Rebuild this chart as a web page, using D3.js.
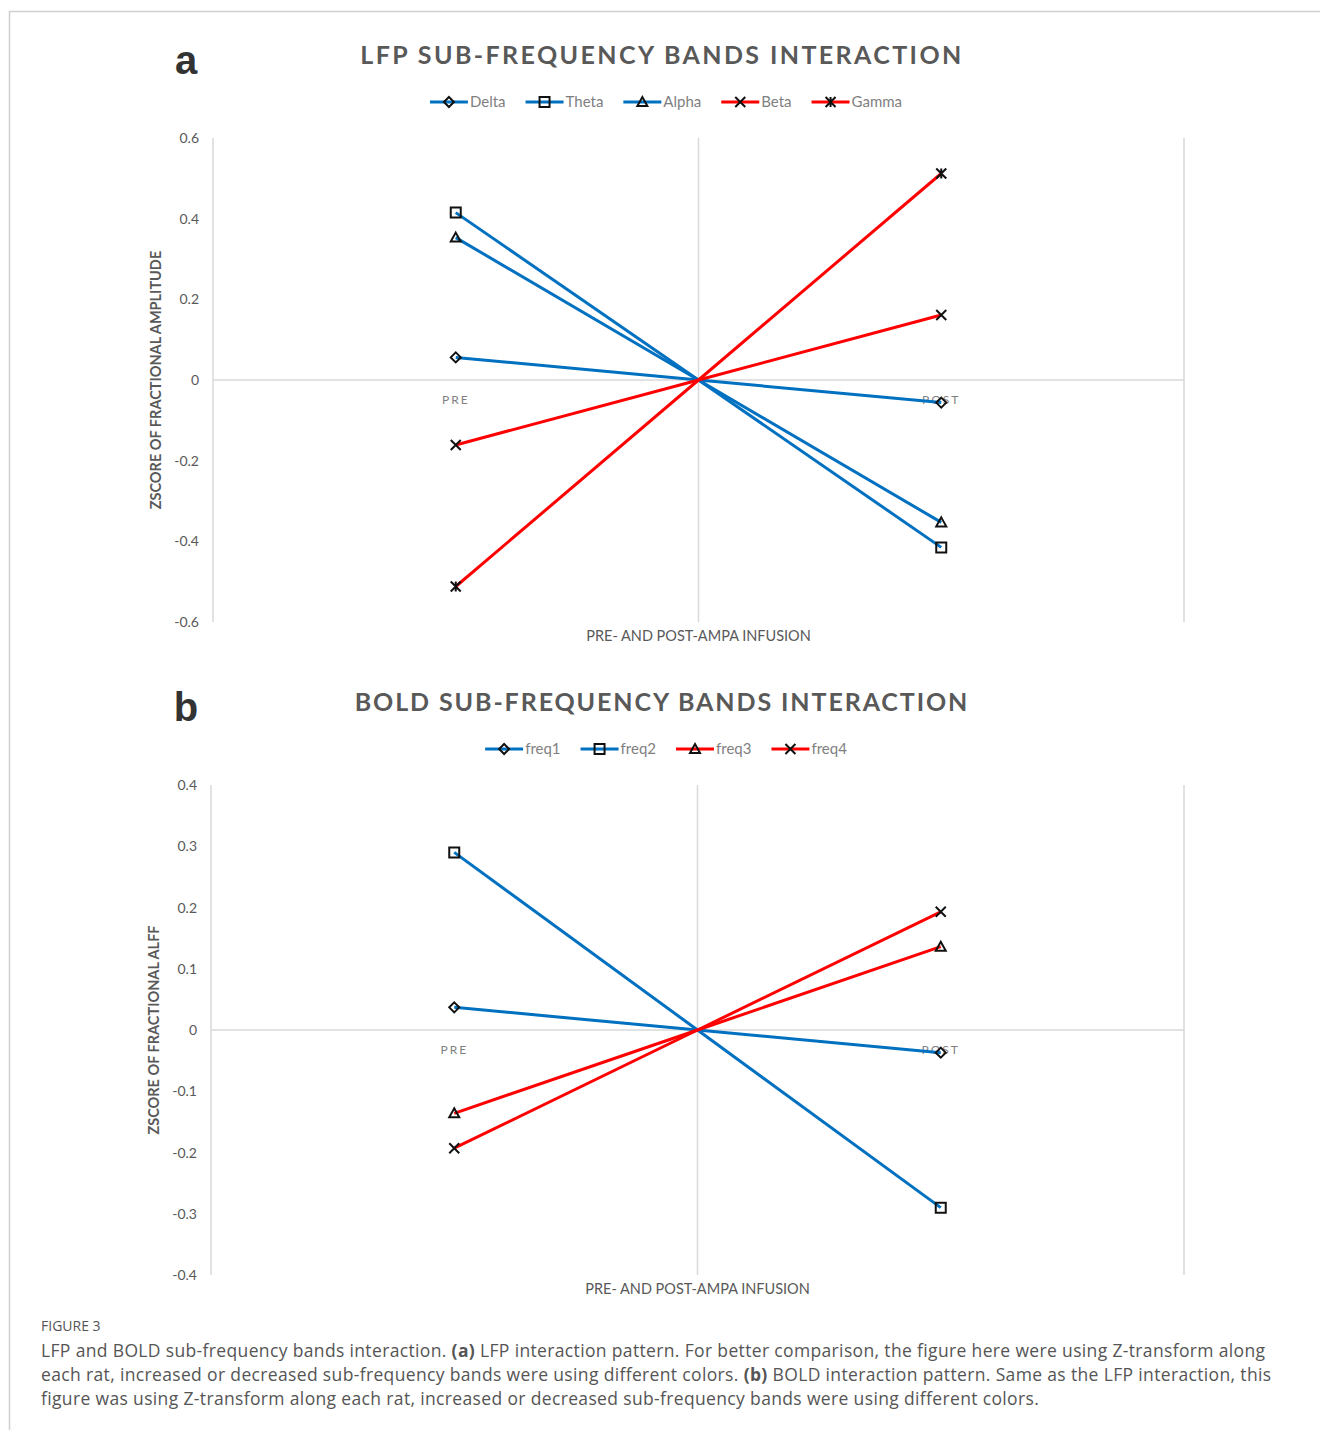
<html>
<head><meta charset="utf-8"></head>
<script src="https://d3js.org/d3.v7.min.js"></script>
<body style="margin:0;background:#fff">
<script>
// panel a : LFP
var lfpBands = ['Delta', 'Theta', 'Alpha', 'Beta', 'Gamma']
var lfpPre = [0.056, 0.415, 0.353, -0.161, -0.512]
var lfpMid = [0, 0, 0, 0, 0]
var lfpPost = [-0.056, -0.415, -0.353, 0.161, 0.512]
var lfpColors = ['#0070C0', '#0070C0', '#0070C0', '#FF0000', '#FF0000']
var lfpMarkers = ['diamond', 'square', 'triangle', 'x', 'star']
var lfpTicks = [0.6, 0.4, 0.2, 0, -0.2, -0.4, -0.6]

// panel b : BOLD
var boldBands = ['freq1', 'freq2', 'freq3', 'freq4']
var boldPre = [0.037, 0.290, -0.136, -0.193]
var boldMid = [0, 0, 0, 0]
var boldPost = [-0.037, -0.290, 0.136, 0.193]
var boldColors = ['#0070C0', '#0070C0', '#FF0000', '#FF0000']
var boldMarkers = ['diamond', 'square', 'triangle', 'x']
var boldTicks = [0.4, 0.3, 0.2, 0.1, 0, -0.1, -0.2, -0.3, -0.4]

var xPositions = [-1, 0, 1]
var categories = ['PRE', 'POST']

var width = 1320, height = 1430
var font = 'Lato, "Open Sans", sans-serif'
var svg = d3.select('body').append('svg').attr('width', width).attr('height', height)

// frame
svg.append('path').attr('d', 'M9.5,1430 L9.5,11.5 L1320,11.5').attr('fill', 'none').attr('stroke', '#cfcfcf').attr('stroke-width', 1.5)

function marker(g, type, x, y) {
    var s = 5
    var m = g.append('path').attr('fill', 'none').attr('stroke', '#111').attr('stroke-width', 2)
    if (type == 'diamond') m.attr('d', `M${x},${y-s} L${x+s},${y} L${x},${y+s} L${x-s},${y} Z`)
    if (type == 'square') m.attr('d', `M${x-s},${y-s} h${2*s} v${2*s} h${-2*s} Z`)
    if (type == 'triangle') m.attr('d', `M${x},${y-s} L${x+s},${y+s-1} L${x-s},${y+s-1} Z`)
    if (type == 'x') m.attr('d', `M${x-s},${y-s} L${x+s},${y+s} M${x+s},${y-s} L${x-s},${y+s}`)
    if (type == 'star') m.attr('d', `M${x-s},${y-s} L${x+s},${y+s} M${x+s},${y-s} L${x-s},${y+s} M${x},${y-s} L${x},${y+s}`)
}

function panel(o) {
    var g = svg.append('g')
    var x = d3.scaleLinear().domain([-2, 2]).range([o.left, o.right])
    var y = d3.scaleLinear().domain([o.ticks[o.ticks.length-1], o.ticks[0]]).range([o.bottom, o.top])

    // panel letter + title
    g.append('text').attr('x', 186).attr('y', o.top - 64).attr('text-anchor', 'middle')
        .style('font-family', '"Liberation Sans", Arial, sans-serif').style('font-weight', 'bold')
        .style('font-size', '40px').attr('fill', '#333').text(o.letter)
    g.append('text').attr('x', 662).attr('y', o.top - 74).attr('text-anchor', 'middle')
        .style('font-family', font).style('font-weight', 'bold').style('font-size', '25px')
        .style('letter-spacing', o.spacing).attr('fill', '#595959').text(o.title)

    // gridlines: vertical at -2, 0, 2
    g.selectAll('.vg').data([-2, 0, 2]).enter().append('line')
        .attr('x1', d => x(d)).attr('x2', d => x(d)).attr('y1', o.top).attr('y2', o.bottom)
        .attr('stroke', '#d9d9d9').attr('stroke-width', 1.5)
    // zero axis
    g.append('line').attr('x1', o.left).attr('x2', o.right).attr('y1', y(0)).attr('y2', y(0))
        .attr('stroke', '#d9d9d9').attr('stroke-width', 1.5)

    // y tick labels
    g.selectAll('.yt').data(o.ticks).enter().append('text')
        .attr('x', o.left - 14).attr('y', d => y(d) + 5).attr('text-anchor', 'end')
        .style('font-family', font).style('font-size', '14px').attr('fill', '#595959')
        .text(d => String(+d.toFixed(1)))

    // category labels
    g.selectAll('.cat').data(categories).enter().append('text')
        .attr('x', (d, i) => x(i == 0 ? -1 : 1)).attr('y', y(0) + 24).attr('text-anchor', 'middle')
        .style('font-family', font).style('font-size', '12px').style('letter-spacing', '2px')
        .attr('fill', '#7f7f7f').text(d => d)

    // axis titles
    g.append('text').attr('transform', `translate(${o.left - 52},${y(0)}) rotate(-90)`).attr('text-anchor', 'middle')
        .style('font-family', font).style('font-weight', 'bold').style('font-size', '14.5px')
        .attr('fill', '#595959').text(o.yTitle)
    g.append('text').attr('x', x(0)).attr('y', o.bottom + 19).attr('text-anchor', 'middle')
        .style('font-family', font).style('font-size', '14.5px')
        .attr('fill', '#595959').text('PRE- AND POST-AMPA INFUSION')

    // series
    var line = d3.line().x(d => x(d[0])).y(d => y(d[1]))
    o.bands.forEach(function(b, i) {
        var pts = [[xPositions[0], o.pre[i]], [xPositions[1], o.mid[i]], [xPositions[2], o.post[i]]]
        g.append('path').attr('d', line(pts)).attr('fill', 'none')
            .attr('stroke', o.colors[i]).attr('stroke-width', 3)
    })
    o.bands.forEach(function(b, i) {
        marker(g, o.markers[i], x(xPositions[0]), y(o.pre[i]))
        marker(g, o.markers[i], x(xPositions[2]), y(o.post[i]))
    })

    // legend
    var lg = g.append('g')
    var cx = 0
    o.bands.forEach(function(b, i) {
        var item = lg.append('g').attr('transform', `translate(${cx},0)`)
        item.append('line').attr('x1', 0).attr('x2', 38).attr('y1', 0).attr('y2', 0)
            .attr('stroke', o.colors[i]).attr('stroke-width', 3)
        marker(item, o.markers[i], 19, 0)
        var t = item.append('text').attr('x', 40).attr('y', 5)
            .style('font-family', font).style('font-size', '15px').attr('fill', '#7f7f7f').text(b)
        cx += 40 + t.node().getComputedTextLength() + 20
    })
    cx -= 20
    lg.attr('transform', `translate(${666 - cx / 2},${o.top - 36})`)
}

panel({letter: 'a', title: 'LFP SUB-FREQUENCY BANDS INTERACTION', yTitle: 'ZSCORE OF FRACTIONAL AMPLITUDE',
    bands: lfpBands, pre: lfpPre, mid: lfpMid, post: lfpPost, colors: lfpColors, markers: lfpMarkers,
    ticks: lfpTicks, left: 213, right: 1184, top: 138, bottom: 622, spacing: '2.4px'})
panel({letter: 'b', title: 'BOLD SUB-FREQUENCY BANDS INTERACTION', yTitle: 'ZSCORE OF FRACTIONAL ALFF',
    bands: boldBands, pre: boldPre, mid: boldMid, post: boldPost, colors: boldColors, markers: boldMarkers,
    ticks: boldTicks, left: 211, right: 1184, top: 785, bottom: 1275, spacing: '1.9px'})

// caption
var cap = svg.append('g').style('font-family', '"Open Sans", Lato, sans-serif').attr('fill', '#555')
cap.append('text').attr('x', 41).attr('y', 1331).style('font-size', '14px').text('FIGURE 3')
var capLines = [
    [['LFP and BOLD sub-frequency bands interaction. ', 0], ['(a)', 1], [' LFP interaction pattern. For better comparison, the figure here were using Z-transform along', 0]],
    [['each rat, increased or decreased sub-frequency bands were using different colors. ', 0], ['(b)', 1], [' BOLD interaction pattern. Same as the LFP interaction, this', 0]],
    [['figure was using Z-transform along each rat, increased or decreased sub-frequency bands were using different colors.', 0]]
]
capLines.forEach(function(l, i) {
    var t = cap.append('text').attr('x', 41).attr('y', 1357 + i * 24).style('font-size', '17.5px')
        .style('letter-spacing', '0.35px')
    l.forEach(function(p) {
        t.append('tspan').style('font-weight', p[1] ? 'bold' : 'normal').text(p[0])
    })
})
</script>
</body>
</html>
